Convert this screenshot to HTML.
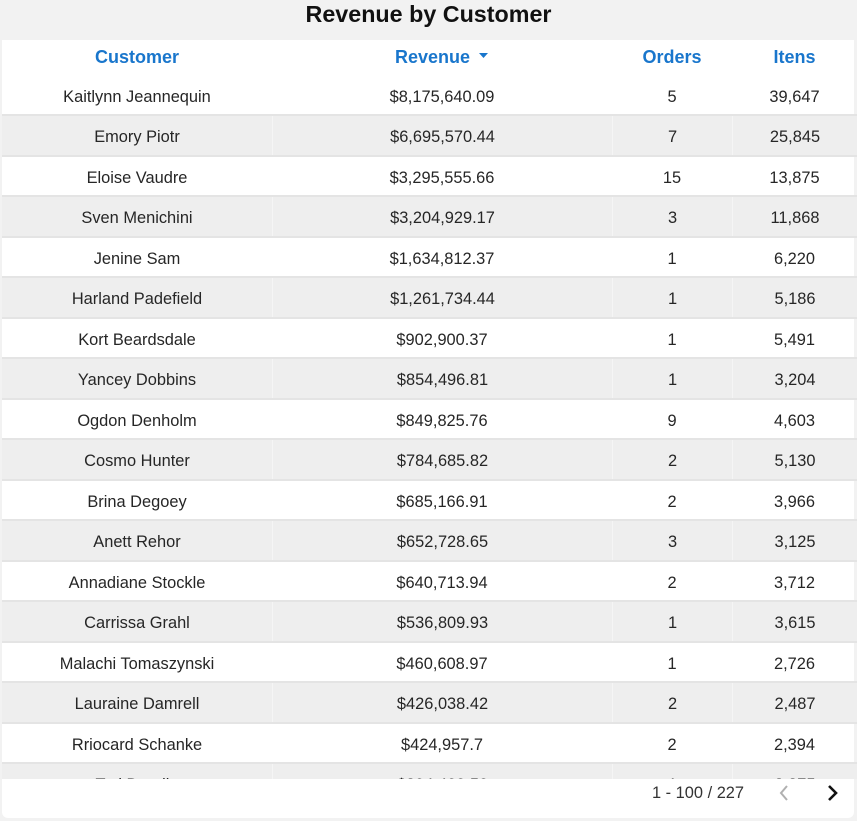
<!DOCTYPE html>
<html><head><meta charset="utf-8"><style>
*{margin:0;padding:0;box-sizing:border-box}
body{width:857px;height:821px;background:#f2f2f2;font-family:"Liberation Sans",Arial,sans-serif;position:relative;overflow:hidden}
.title{position:absolute;left:0;top:0;width:857px;text-align:center;font-weight:bold;font-size:23.3px;line-height:28px;color:#111}
.card{position:absolute;left:2px;top:40px;width:852px;height:778px;background:#fff;border-radius:0 0 6px 6px}
.hdr{position:absolute;left:2px;top:40px;width:855px;height:36px}
.hdr div{position:absolute;top:0;height:36px;line-height:34px;text-align:center;color:#1976cc;font-weight:bold;font-size:18px}
.body{position:absolute;left:2px;top:76px;width:855px;height:703px;overflow:hidden}
.row{position:absolute;left:0;width:855px;height:40.47px;border-bottom:2px solid #e4e4e4}
.row.g{background:#eeeeee}
.row div{position:absolute;top:0;height:38.5px;line-height:39px;padding-top:2px;text-align:center;font-size:16.4px;color:#262626}
.row.g .c2,.row.g .c3,.row.g .c4{border-left:1px solid #f5f5f5}
.c1{left:0;width:270px}.c2{left:270px;width:340px}.c3{left:610px;width:120px}.c4{left:730px;width:125px}
.pg{position:absolute;left:652px;top:783px;font-size:16.4px;line-height:20px;color:#333}
</style></head><body>
<div class="title">Revenue by Customer</div>
<div class="card"></div>
<div class="hdr">
<div class="c1">Customer</div>
<div class="c2">Revenue <svg width="10" height="6" style="margin-left:4px;vertical-align:middle;position:relative;top:-2px"><polygon points="0,0 9,0 4.5,5" fill="#1976cc"/></svg></div>
<div class="c3">Orders</div>
<div class="c4">Itens</div>
</div>
<div class="body">
<div class="row" style="top:0px"><div class="c1">Kaitlynn Jeannequin</div><div class="c2">$8,175,640.09</div><div class="c3">5</div><div class="c4">39,647</div></div>
<div class="row g" style="top:40.47px"><div class="c1">Emory Piotr</div><div class="c2">$6,695,570.44</div><div class="c3">7</div><div class="c4">25,845</div></div>
<div class="row" style="top:80.94px"><div class="c1">Eloise Vaudre</div><div class="c2">$3,295,555.66</div><div class="c3">15</div><div class="c4">13,875</div></div>
<div class="row g" style="top:121.41px"><div class="c1">Sven Menichini</div><div class="c2">$3,204,929.17</div><div class="c3">3</div><div class="c4">11,868</div></div>
<div class="row" style="top:161.88px"><div class="c1">Jenine Sam</div><div class="c2">$1,634,812.37</div><div class="c3">1</div><div class="c4">6,220</div></div>
<div class="row g" style="top:202.35px"><div class="c1">Harland Padefield</div><div class="c2">$1,261,734.44</div><div class="c3">1</div><div class="c4">5,186</div></div>
<div class="row" style="top:242.82px"><div class="c1">Kort Beardsdale</div><div class="c2">$902,900.37</div><div class="c3">1</div><div class="c4">5,491</div></div>
<div class="row g" style="top:283.29px"><div class="c1">Yancey Dobbins</div><div class="c2">$854,496.81</div><div class="c3">1</div><div class="c4">3,204</div></div>
<div class="row" style="top:323.76px"><div class="c1">Ogdon Denholm</div><div class="c2">$849,825.76</div><div class="c3">9</div><div class="c4">4,603</div></div>
<div class="row g" style="top:364.23px"><div class="c1">Cosmo Hunter</div><div class="c2">$784,685.82</div><div class="c3">2</div><div class="c4">5,130</div></div>
<div class="row" style="top:404.7px"><div class="c1">Brina Degoey</div><div class="c2">$685,166.91</div><div class="c3">2</div><div class="c4">3,966</div></div>
<div class="row g" style="top:445.17px"><div class="c1">Anett Rehor</div><div class="c2">$652,728.65</div><div class="c3">3</div><div class="c4">3,125</div></div>
<div class="row" style="top:485.64px"><div class="c1">Annadiane Stockle</div><div class="c2">$640,713.94</div><div class="c3">2</div><div class="c4">3,712</div></div>
<div class="row g" style="top:526.11px"><div class="c1">Carrissa Grahl</div><div class="c2">$536,809.93</div><div class="c3">1</div><div class="c4">3,615</div></div>
<div class="row" style="top:566.58px"><div class="c1">Malachi Tomaszynski</div><div class="c2">$460,608.97</div><div class="c3">1</div><div class="c4">2,726</div></div>
<div class="row g" style="top:607.05px"><div class="c1">Lauraine Damrell</div><div class="c2">$426,038.42</div><div class="c3">2</div><div class="c4">2,487</div></div>
<div class="row" style="top:647.52px"><div class="c1">Rriocard Schanke</div><div class="c2">$424,957.7</div><div class="c3">2</div><div class="c4">2,394</div></div>
<div class="row g" style="top:687.99px"><div class="c1">Ted Dandie</div><div class="c2">$394,428.58</div><div class="c3">1</div><div class="c4">3,375</div></div>
</div>
<div class="pg">1 - 100 / 227</div>
<svg style="position:absolute;left:776px;top:783px" width="16" height="20"><polyline points="11,3 5,10 11,17" fill="none" stroke="#b0b0b0" stroke-width="2"/></svg>
<svg style="position:absolute;left:825px;top:783px" width="16" height="20"><polyline points="4,3 11,10 4,17" fill="none" stroke="#111" stroke-width="2.6"/></svg>
</body></html>
